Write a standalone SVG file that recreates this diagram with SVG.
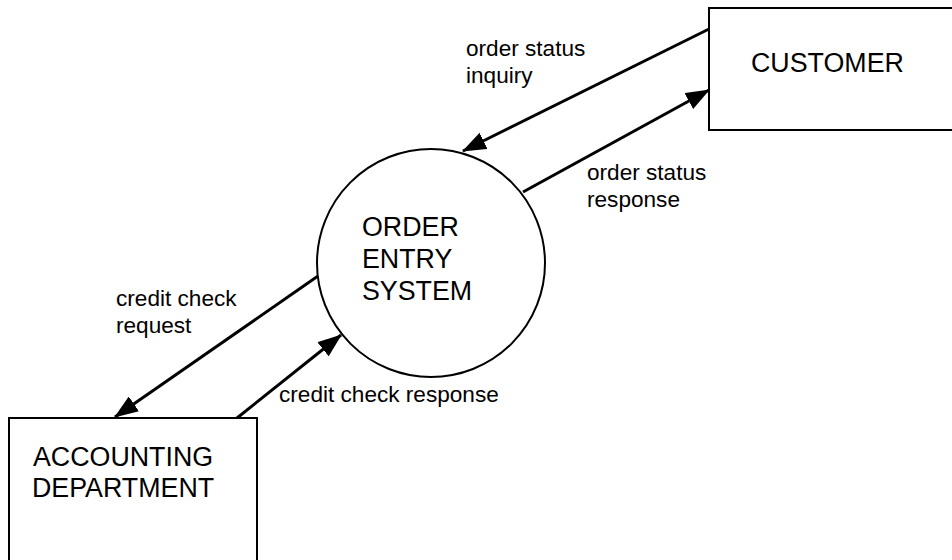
<svg xmlns="http://www.w3.org/2000/svg" width="952" height="560" viewBox="0 0 952 560">
<style>
.node{fill:#fff;stroke:#000;stroke-width:2}
.nt{font-family:"Liberation Sans",Arial,sans-serif;font-size:26.8px;fill:#000}
.lt{font-family:"Liberation Sans",Arial,sans-serif;font-size:22.6px;fill:#000}
.flow{stroke:#000;stroke-width:3;fill:none;marker-end:url(#ah)}
</style>
<defs>
<marker id="ah" markerUnits="userSpaceOnUse" markerWidth="24" markerHeight="18" viewBox="0 0 24 18" refX="23" refY="9" orient="auto">
<path d="M0,0 L24,9 L0,18 Z" fill="#000"/>
</marker>
</defs>
<rect width="952" height="560" fill="#fff"/>
<g id="customer">
<rect class="node" x="709" y="8" width="260" height="122"/>
<text class="nt" x="751" y="72">CUSTOMER</text>
</g>
<g id="order-entry-system">
<circle class="node" cx="431" cy="263" r="114"/>
<text class="nt" x="362" y="236">ORDER</text>
<text class="nt" x="362" y="268">ENTRY</text>
<text class="nt" x="362" y="300">SYSTEM</text>
</g>
<g id="accounting">
<rect class="node" x="9" y="418" width="248" height="160"/>
<text class="nt" x="33" y="466">ACCOUNTING</text>
<text class="nt" x="32" y="497">DEPARTMENT</text>
</g>
<g id="connectors">
<line class="flow" x1="709" y1="29" x2="463" y2="151"/>
<line class="flow" x1="523" y1="192" x2="709" y2="90"/>
<line class="flow" x1="318" y1="276" x2="115" y2="417"/>
<line class="flow" x1="237" y1="418" x2="341" y2="335"/>
</g>
<g id="labels">
<text class="lt" x="466" y="56">order status</text>
<text class="lt" x="466" y="83">inquiry</text>
<text class="lt" x="587" y="180">order status</text>
<text class="lt" x="587" y="207">response</text>
<text class="lt" x="116" y="306">credit check</text>
<text class="lt" x="116" y="333">request</text>
<text class="lt" x="279" y="402">credit check response</text>
</g>
</svg>
